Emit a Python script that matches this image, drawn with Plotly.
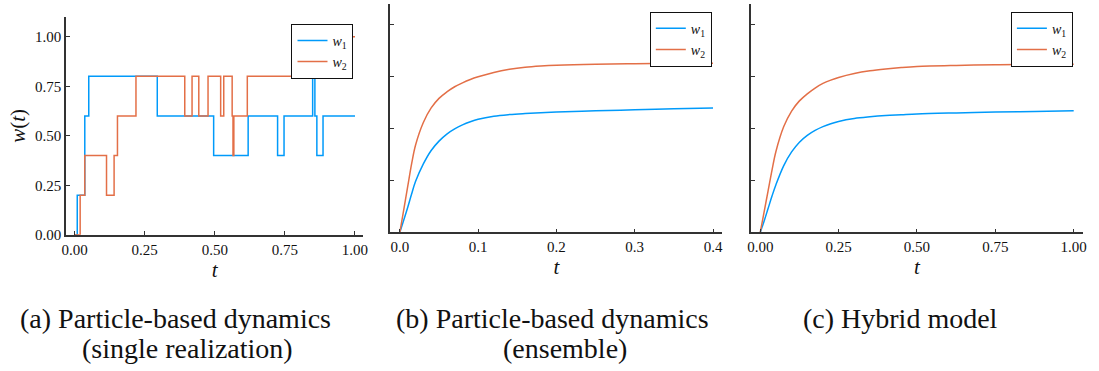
import plotly.graph_objects as go

# ---------------- data ----------------
# (a) single realization: step functions (time of change, new value)
a_w1_t = [0.0, 0.0096, 0.0365, 0.0507, 0.295, 0.496, 0.619, 0.724, 0.747, 0.849, 0.857, 0.864, 0.886, 1.0]
a_w1_v = [0.0, 0.2, 0.6, 0.8, 0.6, 0.4, 0.6, 0.4, 0.6, 0.8, 0.6, 0.4, 0.6, 0.6]
a_w2_t = [0.0, 0.020, 0.0365, 0.114, 0.141, 0.153, 0.219, 0.393, 0.419, 0.443, 0.476, 0.521,
          0.532, 0.562, 0.565, 0.568, 0.616, 0.830, 0.955, 0.957, 1.0]
a_w2_v = [0.0, 0.2, 0.4, 0.2, 0.4, 0.6, 0.8, 0.6, 0.8, 0.6, 0.8, 0.6,
          0.8, 0.6, 0.4, 0.6, 0.8, 1.0, 0.8, 1.0, 1.0]

# (b) ensemble
b_t = [0.0, 0.005, 0.01, 0.015, 0.02, 0.03, 0.04, 0.05, 0.06, 0.07, 0.08, 0.09, 0.10,
       0.12, 0.14, 0.16, 0.18, 0.20, 0.25, 0.30, 0.35, 0.40]
b_w1 = [0.0, 0.06, 0.12, 0.185, 0.245, 0.33, 0.395, 0.44, 0.474, 0.499, 0.518, 0.533, 0.545,
        0.560, 0.568, 0.573, 0.577, 0.580, 0.586, 0.591, 0.596, 0.600]
b_w2 = [0.0, 0.11, 0.22, 0.33, 0.42, 0.53, 0.60, 0.646, 0.677, 0.702, 0.721, 0.737, 0.750,
        0.771, 0.786, 0.796, 0.802, 0.806, 0.811, 0.813, 0.814, 0.815]

# (c) hybrid model
c_t = [0.0, 0.0125, 0.025, 0.0375, 0.05, 0.075, 0.10, 0.125, 0.15, 0.175, 0.20, 0.225, 0.25,
       0.30, 0.35, 0.40, 0.45, 0.50, 0.625, 0.75, 0.875, 1.0]
c_w1 = [0.0, 0.055, 0.115, 0.175, 0.23, 0.322, 0.388, 0.435, 0.468, 0.492, 0.510, 0.524, 0.535,
        0.549, 0.557, 0.563, 0.567, 0.571, 0.576, 0.580, 0.583, 0.586]
c_w2 = [0.0, 0.10, 0.20, 0.30, 0.39, 0.51, 0.585, 0.634, 0.668, 0.696, 0.718, 0.734, 0.747,
        0.766, 0.779, 0.788, 0.795, 0.800, 0.805, 0.808, 0.810, 0.810]

series_names = ["<i>w</i><sub>1</sub>", "<i>w</i><sub>2</sub>"]
y_ticks = [0.0, 0.25, 0.5, 0.75, 1.0]
y_ticklabels = ["0.00", "0.25", "0.50", "0.75", "1.00"]
a_x_ticks = [0.0, 0.25, 0.5, 0.75, 1.0]
a_x_labels = ["0.00", "0.25", "0.50", "0.75", "1.00"]
b_x_ticks = [0.0, 0.1, 0.2, 0.3, 0.4]
b_x_labels = ["0.0", "0.1", "0.2", "0.3", "0.4"]
c_x_ticks = [0.0, 0.25, 0.5, 0.75, 1.0]
c_x_labels = ["0.00", "0.25", "0.50", "0.75", "1.00"]
captions = [
    ["(a) Particle-based dynamics", "(single realization)"],
    ["(b) Particle-based dynamics", "(ensemble)"],
    ["(c) Hybrid model"],
]

# ---------------- style ----------------
W, H = 1099, 371
BLUE = "#009AFA"
RED = "#E36F47"
FONT = "Liberation Serif, Times New Roman, DejaVu Serif, serif"
AXC = "#333333"

def px_x(p):
    return p / W

def px_y(p):
    return 1 - p / H

fig = go.Figure()

line_a = dict(width=1.5, shape="hv")
line_s = dict(width=1.5, shape="spline", smoothing=1.0)

fig.add_trace(go.Scatter(x=a_w1_t, y=a_w1_v, mode="lines", line=dict(color=BLUE, **line_a),
                         name=series_names[0], xaxis="x", yaxis="y", legend="legend"))
fig.add_trace(go.Scatter(x=a_w2_t, y=a_w2_v, mode="lines", line=dict(color=RED, **line_a),
                         name=series_names[1], xaxis="x", yaxis="y", legend="legend"))
fig.add_trace(go.Scatter(x=b_t, y=b_w1, mode="lines", line=dict(color=BLUE, **line_s),
                         name=series_names[0], xaxis="x2", yaxis="y2", legend="legend2"))
fig.add_trace(go.Scatter(x=b_t, y=b_w2, mode="lines", line=dict(color=RED, **line_s),
                         name=series_names[1], xaxis="x2", yaxis="y2", legend="legend2"))
fig.add_trace(go.Scatter(x=c_t, y=c_w1, mode="lines", line=dict(color=BLUE, **line_s),
                         name=series_names[0], xaxis="x3", yaxis="y3", legend="legend3"))
fig.add_trace(go.Scatter(x=c_t, y=c_w2, mode="lines", line=dict(color=RED, **line_s),
                         name=series_names[1], xaxis="x3", yaxis="y3", legend="legend3"))

common_axis = dict(showline=True, linecolor=AXC, linewidth=1.6, mirror=False, ticks="inside",
                   ticklen=4, tickwidth=1, tickcolor=AXC, showgrid=False, zeroline=False,
                   tickfont=dict(family=FONT, size=15, color="#111"))

title_font = dict(family=FONT, size=21, color="#111")

fig.update_layout(
    width=W, height=H,
    margin=dict(l=0, r=0, t=0, b=0),
    paper_bgcolor="white", plot_bgcolor="white",
    font=dict(family=FONT, color="#111"),
    xaxis=dict(domain=[px_x(61.7), px_x(361.7)], range=[-0.03, 1.03], tickvals=a_x_ticks,
               ticktext=a_x_labels, anchor="y",
               title=dict(text="<i>t</i>", font=title_font, standoff=0), **common_axis),
    yaxis=dict(domain=[px_y(240), px_y(17.3)], range=[0, 1.1], tickvals=y_ticks,
               ticktext=y_ticklabels, anchor="x",
               title=dict(text="<i>w</i>(<i>t</i>)", font=title_font, standoff=4), **common_axis),
    xaxis2=dict(domain=[px_x(389), px_x(724)], range=[-0.012, 0.412], tickvals=b_x_ticks,
                ticktext=b_x_labels, anchor="y2",
                title=dict(text="<i>t</i>", font=title_font, standoff=0), **common_axis),
    yaxis2=dict(domain=[px_y(237.5), px_y(4.3)], range=[0, 1.1], tickvals=y_ticks,
                showticklabels=False, anchor="x2", **common_axis),
    xaxis3=dict(domain=[px_x(752.7), px_x(1088)], range=[-0.03, 1.03], tickvals=c_x_ticks,
                ticktext=c_x_labels, anchor="y3",
                title=dict(text="<i>t</i>", font=title_font, standoff=0), **common_axis),
    yaxis3=dict(domain=[px_y(237.5), px_y(4.3)], range=[0, 1.1], tickvals=y_ticks,
                showticklabels=False, anchor="x3", **common_axis),
)

leg_common = dict(bgcolor="white", bordercolor="#111", borderwidth=1,
                  font=dict(family=FONT, size=14, color="#111"),
                  xanchor="right", yanchor="top", itemwidth=30, tracegroupgap=0)
fig.update_layout(
    legend=dict(x=px_x(351.7), y=px_y(24.3), **leg_common),
    legend2=dict(x=px_x(713.3), y=px_y(12), **leg_common),
    legend3=dict(x=px_x(1077.7), y=px_y(12), **leg_common),
)

cap_font = dict(family=FONT, size=28, color="#111")
cap_pos = [[(172, 326), (184, 356)], [(553, 326), (565, 356)], [(904, 326)]]
for lines, poss in zip(captions, cap_pos):
    for text, (cx, cy) in zip(lines, poss):
        fig.add_annotation(text=text, x=px_x(cx), y=px_y(cy), xref="paper", yref="paper",
                           showarrow=False, xanchor="center", yanchor="middle", font=cap_font)

fig.write_html("out.html", config={"displayModeBar": False},
               post_script="document.body.style.margin='0px';")
